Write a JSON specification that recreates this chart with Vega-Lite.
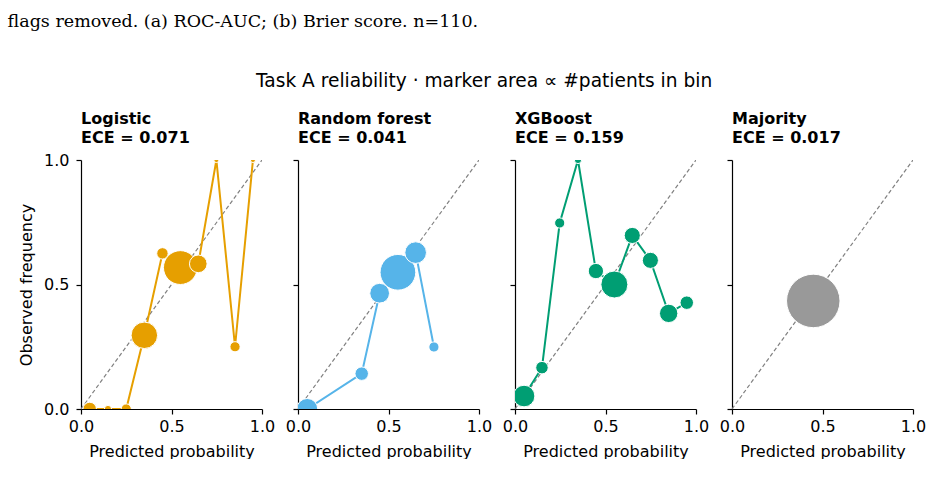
{
  "$schema": "https://vega.github.io/schema/vega-lite/v6.json",
  "background": "white",
  "padding": {"left": 7, "top": 12, "right": 0, "bottom": 0},
  "datasets": {
    "diag": [{"pred": 0, "obs": 0}, {"pred": 1, "obs": 1}],
    "logistic": [
      {"pred": 0.048, "obs": 0.0, "n": 7},
      {"pred": 0.149, "obs": 0.0, "n": 2},
      {"pred": 0.25, "obs": 0.0, "n": 4},
      {"pred": 0.35, "obs": 0.296, "n": 27},
      {"pred": 0.45, "obs": 0.625, "n": 5},
      {"pred": 0.549, "obs": 0.568, "n": 44},
      {"pred": 0.648, "obs": 0.583, "n": 12},
      {"pred": 0.748, "obs": 1.0, "n": 1},
      {"pred": 0.851, "obs": 0.25, "n": 4},
      {"pred": 0.95, "obs": 1.0, "n": 1}
    ],
    "rf": [
      {"pred": 0.051, "obs": 0.0, "n": 17},
      {"pred": 0.352, "obs": 0.142, "n": 7},
      {"pred": 0.451, "obs": 0.465, "n": 15},
      {"pred": 0.552, "obs": 0.549, "n": 49},
      {"pred": 0.65, "obs": 0.628, "n": 18},
      {"pred": 0.751, "obs": 0.249, "n": 4}
    ],
    "xgb": [
      {"pred": 0.05, "obs": 0.052, "n": 18},
      {"pred": 0.149, "obs": 0.166, "n": 6},
      {"pred": 0.247, "obs": 0.747, "n": 4},
      {"pred": 0.348, "obs": 1.0, "n": 2},
      {"pred": 0.447, "obs": 0.554, "n": 9},
      {"pred": 0.549, "obs": 0.5, "n": 28},
      {"pred": 0.648, "obs": 0.697, "n": 10},
      {"pred": 0.748, "obs": 0.597, "n": 10},
      {"pred": 0.849, "obs": 0.384, "n": 13},
      {"pred": 0.949, "obs": 0.427, "n": 7}
    ],
    "majority": [
      {"pred": 0.449, "obs": 0.434, "n": 110}
    ]
  },
  "title": {
    "text": "flags removed. (a) ROC-AUC; (b) Brier score. n=110.",
    "anchor": "start",
    "frame": "bounds",
    "font": "DejaVu Serif",
    "fontSize": 17.5,
    "fontWeight": "normal",
    "color": "black",
    "dx": -11,
    "offset": 42
  },
  "vconcat": [
    {
      "title": {
        "text": "Task A reliability · marker area ∝ #patients in bin",
        "anchor": "middle",
        "frame": "bounds",
        "font": "DejaVu Sans",
        "fontSize": 18.6,
        "fontWeight": "normal",
        "color": "black",
        "dx": 12,
        "offset": 20
      },
      "spacing": 36,
      "bounds": "flush",
      "hconcat": [
        {
          "width": 181, "height": 249,
          "title": {"text": ["Logistic", "ECE = 0.071"]},
          "layer": [
            {"data": {"name": "diag"}, "mark": {"type": "line", "color": "#808080", "strokeWidth": 1.2, "strokeDash": [4, 2.5], "clip": true},
             "encoding": {"x": {"field": "pred", "type": "quantitative", "scale": {"domain": [0, 1], "nice": false}, "axis": {"title": "Predicted probability", "values": [0, 0.5, 1], "format": ".1f"}},
                          "y": {"field": "obs", "type": "quantitative", "scale": {"domain": [0, 1], "nice": false}, "axis": {"title": "Observed frequency", "values": [0, 0.5, 1], "format": ".1f"}}}},
            {"data": {"name": "logistic"}, "mark": {"type": "line", "color": "#E69F00", "strokeWidth": 2, "clip": true},
             "encoding": {"x": {"field": "pred", "type": "quantitative"}, "y": {"field": "obs", "type": "quantitative"}}},
            {"data": {"name": "logistic"}, "mark": {"type": "circle", "color": "#E69F00", "opacity": 1, "stroke": "white", "strokeWidth": 1, "clip": true},
             "encoding": {"x": {"field": "pred", "type": "quantitative"}, "y": {"field": "obs", "type": "quantitative"},
                          "size": {"field": "n", "type": "quantitative", "scale": {"type": "linear", "domain": [0, 110], "range": [0, 2860]}, "legend": null}}}
          ]
        },
        {
          "width": 181, "height": 249,
          "title": {"text": ["Random forest", "ECE = 0.041"], "offset": 13},
          "layer": [
            {"data": {"name": "diag"}, "mark": {"type": "line", "color": "#808080", "strokeWidth": 1.2, "strokeDash": [4, 2.5], "clip": true},
             "encoding": {"x": {"field": "pred", "type": "quantitative", "scale": {"domain": [0, 1], "nice": false}, "axis": {"title": "Predicted probability", "values": [0, 0.5, 1], "format": ".1f"}},
                          "y": {"field": "obs", "type": "quantitative", "scale": {"domain": [0, 1], "nice": false}, "axis": {"title": null, "labels": false, "values": [0, 0.5, 1]}}}},
            {"data": {"name": "rf"}, "mark": {"type": "line", "color": "#56B4E9", "strokeWidth": 2, "clip": true},
             "encoding": {"x": {"field": "pred", "type": "quantitative"}, "y": {"field": "obs", "type": "quantitative"}}},
            {"data": {"name": "rf"}, "mark": {"type": "circle", "color": "#56B4E9", "opacity": 1, "stroke": "white", "strokeWidth": 1, "clip": true},
             "encoding": {"x": {"field": "pred", "type": "quantitative"}, "y": {"field": "obs", "type": "quantitative"},
                          "size": {"field": "n", "type": "quantitative", "scale": {"type": "linear", "domain": [0, 110], "range": [0, 2860]}, "legend": null}}}
          ]
        },
        {
          "width": 181, "height": 249,
          "title": {"text": ["XGBoost", "ECE = 0.159"], "offset": 13},
          "layer": [
            {"data": {"name": "diag"}, "mark": {"type": "line", "color": "#808080", "strokeWidth": 1.2, "strokeDash": [4, 2.5], "clip": true},
             "encoding": {"x": {"field": "pred", "type": "quantitative", "scale": {"domain": [0, 1], "nice": false}, "axis": {"title": "Predicted probability", "values": [0, 0.5, 1], "format": ".1f"}},
                          "y": {"field": "obs", "type": "quantitative", "scale": {"domain": [0, 1], "nice": false}, "axis": {"title": null, "labels": false, "values": [0, 0.5, 1]}}}},
            {"data": {"name": "xgb"}, "mark": {"type": "line", "color": "#009E73", "strokeWidth": 2, "clip": true},
             "encoding": {"x": {"field": "pred", "type": "quantitative"}, "y": {"field": "obs", "type": "quantitative"}}},
            {"data": {"name": "xgb"}, "mark": {"type": "circle", "color": "#009E73", "opacity": 1, "stroke": "white", "strokeWidth": 1, "clip": true},
             "encoding": {"x": {"field": "pred", "type": "quantitative"}, "y": {"field": "obs", "type": "quantitative"},
                          "size": {"field": "n", "type": "quantitative", "scale": {"type": "linear", "domain": [0, 110], "range": [0, 2860]}, "legend": null}}}
          ]
        },
        {
          "width": 181, "height": 249,
          "title": {"text": ["Majority", "ECE = 0.017"], "offset": 13},
          "layer": [
            {"data": {"name": "diag"}, "mark": {"type": "line", "color": "#808080", "strokeWidth": 1.2, "strokeDash": [4, 2.5], "clip": true},
             "encoding": {"x": {"field": "pred", "type": "quantitative", "scale": {"domain": [0, 1], "nice": false}, "axis": {"title": "Predicted probability", "values": [0, 0.5, 1], "format": ".1f"}},
                          "y": {"field": "obs", "type": "quantitative", "scale": {"domain": [0, 1], "nice": false}, "axis": {"title": null, "labels": false, "values": [0, 0.5, 1]}}}},
            {"data": {"name": "majority"}, "mark": {"type": "circle", "color": "#999999", "opacity": 1, "stroke": "white", "strokeWidth": 1, "clip": true},
             "encoding": {"x": {"field": "pred", "type": "quantitative"}, "y": {"field": "obs", "type": "quantitative"},
                          "size": {"field": "n", "type": "quantitative", "scale": {"type": "linear", "domain": [0, 110], "range": [0, 2860]}, "legend": null}}}
          ]
        }
      ]
    }
  ],
  "config": {
    "view": {"stroke": null},
    "font": "DejaVu Sans",
    "title": {"anchor": "start", "frame": "group", "font": "DejaVu Sans", "fontSize": 16, "fontWeight": "bold", "color": "black", "lineHeight": 19, "offset": 6},
    "axis": {
      "grid": false,
      "domainColor": "black",
      "domainWidth": 1.2,
      "tickColor": "black",
      "tickWidth": 1.2,
      "tickSize": 5,
      "labelFont": "DejaVu Sans",
      "labelFontSize": 16,
      "labelColor": "black",
      "labelPadding": 4,
      "labelFlush": false,
      "labelOverlap": false,
      "titleFont": "DejaVu Sans",
      "titleFontSize": 16,
      "titleFontWeight": "normal",
      "titleColor": "black"
    },
    "axisX": {"titlePadding": 9},
    "axisY": {"titlePadding": 9, "labelPadding": 7}
  }
}
